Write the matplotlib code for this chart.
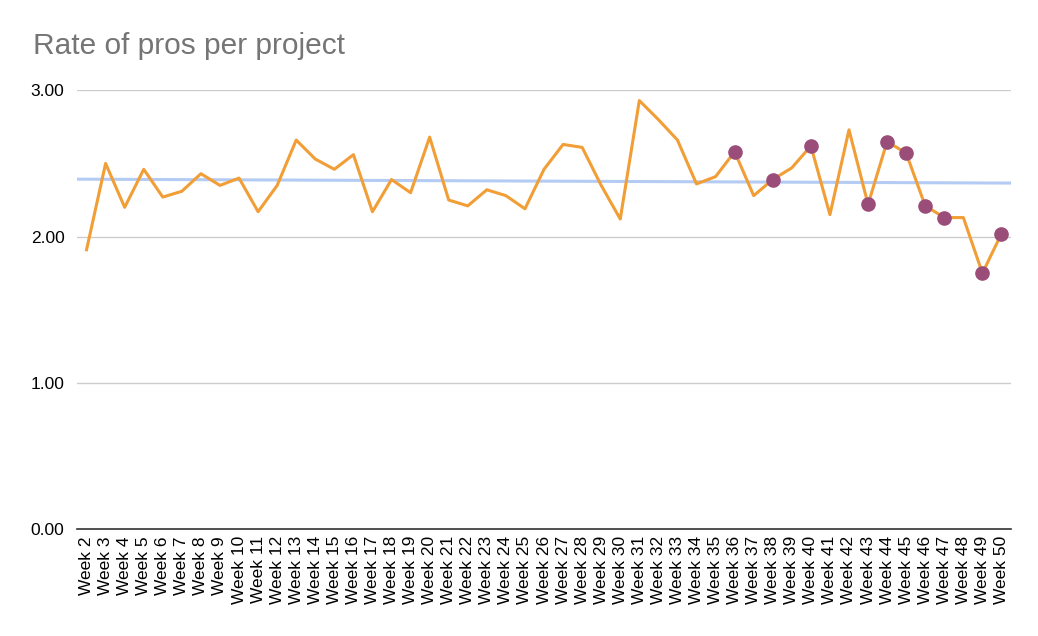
import numpy as np
import matplotlib.pyplot as plt

# Dati (settimane 2..50)
weeks = [f'Week {w}' for w in range(2, 51)]
rate = [1.91, 2.50, 2.20, 2.46, 2.27, 2.31, 2.43, 2.35, 2.40, 2.17,
        2.35, 2.66, 2.53, 2.46, 2.56, 2.17, 2.39, 2.30, 2.68, 2.25,
        2.21, 2.32, 2.28, 2.19, 2.46, 2.63, 2.61, 2.35, 2.12, 2.93,
        2.80, 2.66, 2.36, 2.41, 2.58, 2.28, 2.39, 2.47, 2.62, 2.15,
        2.73, 2.22, 2.65, 2.57, 2.21, 2.13, 2.13, 1.75, 2.02]
highlight_weeks = [36, 38, 40, 43, 44, 45, 46, 47, 49, 50]
yticks = [0, 1, 2, 3]

plt.rcParams['font.family'] = ['Liberation Sans', 'DejaVu Sans']

x = np.arange(len(weeks))
rate = np.array(rate)
hl_idx = [w - 2 for w in highlight_weeks]

# Linea di tendenza lineare (estesa su tutta l'area del grafico)
slope, intercept = np.polyfit(x, rate, 1)
x_trend = np.array([-0.5, len(weeks) - 0.5])
trend = slope * x_trend + intercept

fig = plt.figure(figsize=(10.38, 6.36), dpi=100)
ax = fig.add_axes([0.0742, 0.168, 0.8998, 0.690])

ax.plot(x_trend, trend, color='#b4cbf3', lw=2.2, zorder=2, solid_capstyle='butt')
ax.plot(x, rate, color='#f29e37', lw=2.2, zorder=3)
ax.plot(x[hl_idx], rate[hl_idx], 'o', color='#9a4d78', ms=9.5, zorder=4)

ax.set_xlim(-0.5, len(weeks) - 0.5)
ax.set_ylim(0, 3)
ax.set_yticks(yticks)
ax.set_yticklabels([f'{v:.2f}' for v in yticks], fontsize=12.5)
ax.set_xticks(x)
ax.set_xticklabels(weeks, rotation=90, fontsize=12.5)
ax.tick_params(length=0)
ax.tick_params(axis='y', pad=9)
ax.tick_params(axis='x', pad=5)

ax.grid(axis='y', color='#cccccc', lw=1)
ax.set_axisbelow(True)
for s in ['top', 'right', 'left']:
    ax.spines[s].set_visible(False)
ax.spines['bottom'].set_color('#333333')
ax.spines['bottom'].set_linewidth(1.2)

fig.text(33 / 1038, 1 - 46 / 636, 'Rate of pros per project', fontsize=21.5,
         color='#757575', va='center', ha='left')

plt.savefig('out.png', dpi=100)
